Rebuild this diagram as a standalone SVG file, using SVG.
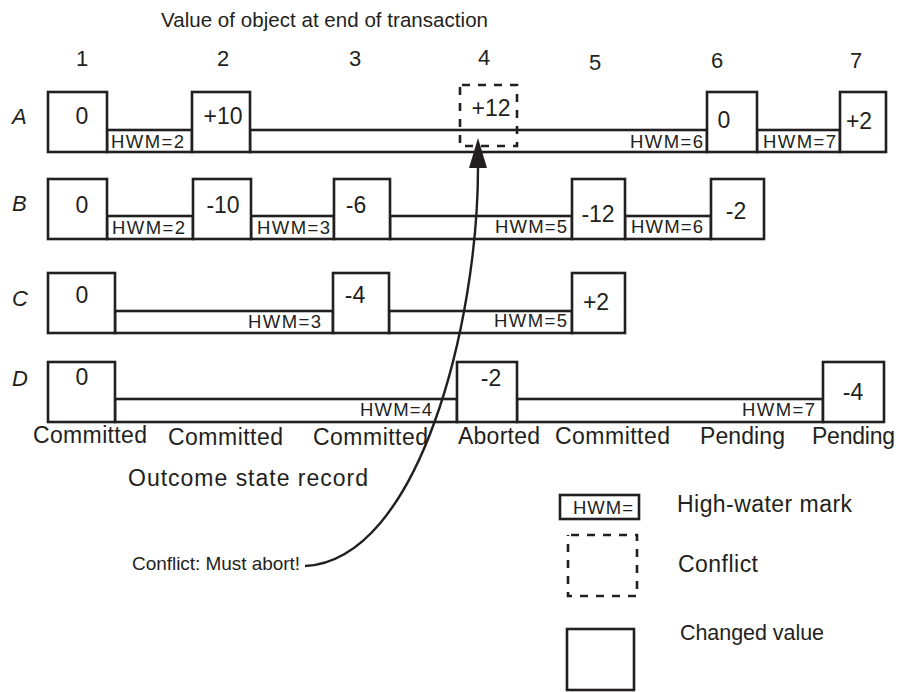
<svg xmlns="http://www.w3.org/2000/svg" width="898" height="692" viewBox="0 0 898 692">
  <style>
    text { font-family: "Liberation Sans", Arial, sans-serif; fill: #231f20; }
    .box { fill: #fff; stroke: #231f20; stroke-width: 2.6; }
    .bar { fill: #fff; stroke: #231f20; stroke-width: 2.6; }
    .conflict { fill: none; stroke: #231f20; stroke-width: 2.6; stroke-dasharray: 8 8; }
    .val { font-size: 23px; text-anchor: middle; }
    .col { font-size: 22px; text-anchor: middle; }
    .row { font-size: 22px; font-style: italic; }
    .hwm { font-size: 18.5px; }
    .state { font-size: 23px; }
    .note { font-size: 23px; }
    .link { fill: none; stroke: #231f20; stroke-width: 2.4; }
  </style>
  <defs>
    <marker id="arrowhead" markerUnits="userSpaceOnUse" markerWidth="30" markerHeight="18" viewBox="0 0 30 18" refX="0" refY="9" orient="auto">
      <path d="M0,0 L30,9 L0,18 z" fill="#231f20"/>
    </marker>
  </defs>

  <!-- heading and column numbers -->
  <text x="161" y="27" font-size="20.5" textLength="327">Value of object at end of transaction</text>
  <g id="columns">
    <text class="col" x="82" y="66">1</text>
    <text class="col" x="223" y="66">2</text>
    <text class="col" x="355" y="66">3</text>
    <text class="col" x="484" y="65">4</text>
    <text class="col" x="595" y="70">5</text>
    <text class="col" x="717" y="68">6</text>
    <text class="col" x="856" y="68">7</text>
  </g>

  <!-- row A -->
  <g id="rowA">
    <text class="row" x="12" y="124">A</text>
    <rect class="bar" x="107" y="130" width="85" height="22"/>
    <rect class="bar" x="250" y="130" width="457" height="22"/>
    <rect class="bar" x="757" y="130" width="83" height="22"/>
    <rect class="box" x="48" y="92" width="59" height="60"/>
    <rect class="box" x="192" y="92" width="58" height="60"/>
    <rect class="box" x="707" y="92" width="50" height="60"/>
    <rect class="box" x="840" y="92" width="46" height="60"/>
    <rect class="conflict" x="460" y="85" width="57" height="61" stroke-dasharray="7 9" stroke-dashoffset="-2"/>
    <text class="val" x="82" y="124">0</text>
    <text class="val" x="223" y="124">+10</text>
    <text class="val" x="491" y="116">+12</text>
    <text class="val" x="724" y="128">0</text>
    <text class="val" x="859" y="129">+2</text>
    <text class="hwm" x="111" y="148" textLength="73">HWM=2</text>
    <text class="hwm" x="630" y="148" textLength="73">HWM=6</text>
    <text class="hwm" x="763" y="148" textLength="73">HWM=7</text>
  </g>

  <!-- row B -->
  <g id="rowB">
    <text class="row" x="12" y="211">B</text>
    <rect class="bar" x="107" y="216" width="86" height="23"/>
    <rect class="bar" x="251" y="216" width="83" height="23"/>
    <rect class="bar" x="390" y="216" width="182" height="23"/>
    <rect class="bar" x="625" y="216" width="86" height="23"/>
    <rect class="box" x="48" y="179" width="59" height="60"/>
    <rect class="box" x="193" y="179" width="58" height="60"/>
    <rect class="box" x="334" y="179" width="56" height="60"/>
    <rect class="box" x="572" y="179" width="53" height="60"/>
    <rect class="box" x="711" y="179" width="53" height="60"/>
    <text class="val" x="82" y="213">0</text>
    <text class="val" x="223" y="213">-10</text>
    <text class="val" x="356" y="213">-6</text>
    <text class="val" x="598" y="222">-12</text>
    <text class="val" x="736" y="219">-2</text>
    <text class="hwm" x="112" y="234" textLength="73">HWM=2</text>
    <text class="hwm" x="257" y="234" textLength="73">HWM=3</text>
    <text class="hwm" x="495" y="233" textLength="72">HWM=5</text>
    <text class="hwm" x="631" y="233" textLength="72">HWM=6</text>
  </g>

  <!-- row C -->
  <g id="rowC">
    <text class="row" x="12" y="306">C</text>
    <rect class="bar" x="115" y="311" width="218" height="22"/>
    <rect class="bar" x="389" y="311" width="183" height="22"/>
    <rect class="box" x="48" y="273" width="67" height="60"/>
    <rect class="box" x="333" y="273" width="56" height="60"/>
    <rect class="box" x="572" y="273" width="53" height="60"/>
    <text class="val" x="82" y="303">0</text>
    <text class="val" x="355" y="303">-4</text>
    <text class="val" x="596" y="310">+2</text>
    <text class="hwm" x="248" y="328" textLength="73">HWM=3</text>
    <text class="hwm" x="494" y="327" textLength="73">HWM=5</text>
  </g>

  <!-- row D -->
  <g id="rowD">
    <text class="row" x="12" y="386">D</text>
    <rect class="bar" x="115" y="399" width="342" height="23"/>
    <rect class="bar" x="517" y="399" width="306" height="23"/>
    <rect class="box" x="48" y="362" width="67" height="60"/>
    <rect class="box" x="457" y="362" width="60" height="60"/>
    <rect class="box" x="823" y="362" width="61" height="60"/>
    <text class="val" x="82" y="385">0</text>
    <text class="val" x="491" y="386">-2</text>
    <text class="val" x="853" y="400">-4</text>
    <text class="hwm" x="360" y="416" textLength="72">HWM=4</text>
    <text class="hwm" x="742" y="416" textLength="73">HWM=7</text>
  </g>

  <!-- outcome states of the transactions -->
  <g id="outcomes">
    <text class="state" x="33" y="443" textLength="114">Committed</text>
    <text class="state" x="168" y="445" textLength="115">Committed</text>
    <text class="state" x="313" y="445" textLength="115">Committed</text>
    <text class="state" x="458" y="444" textLength="82">Aborted</text>
    <text class="state" x="555" y="444" textLength="115">Committed</text>
    <text class="state" x="700" y="444" textLength="85">Pending</text>
    <text class="state" x="812" y="444" textLength="83">Pending</text>
    <text class="note" x="128" y="486" textLength="240">Outcome state  record</text>
  </g>

  <!-- conflict annotation -->
  <g id="connectors">
    <path class="link" d="M305,566 C420,560 478,320 478,168" marker-end="url(#arrowhead)"/>
  </g>
  <g id="conflictNote">
    <text x="132" y="570" font-size="19" textLength="168">Conflict: Must abort!</text>
  </g>

  <!-- legend -->
  <g id="legend">
    <rect class="bar" x="560" y="495" width="79" height="24"/>
    <text class="hwm" x="573" y="514" textLength="60">HWM=</text>
    <text class="note" x="677" y="512" textLength="175">High-water mark</text>
    <rect class="conflict" x="568" y="535" width="69" height="61" stroke-dasharray="13 9" stroke-dashoffset="-3"/>
    <text class="note" x="678" y="572" textLength="80">Conflict</text>
    <rect class="box" x="567" y="629" width="67" height="61"/>
    <text x="680" y="640" font-size="21.5" textLength="144">Changed value</text>
  </g>
</svg>
